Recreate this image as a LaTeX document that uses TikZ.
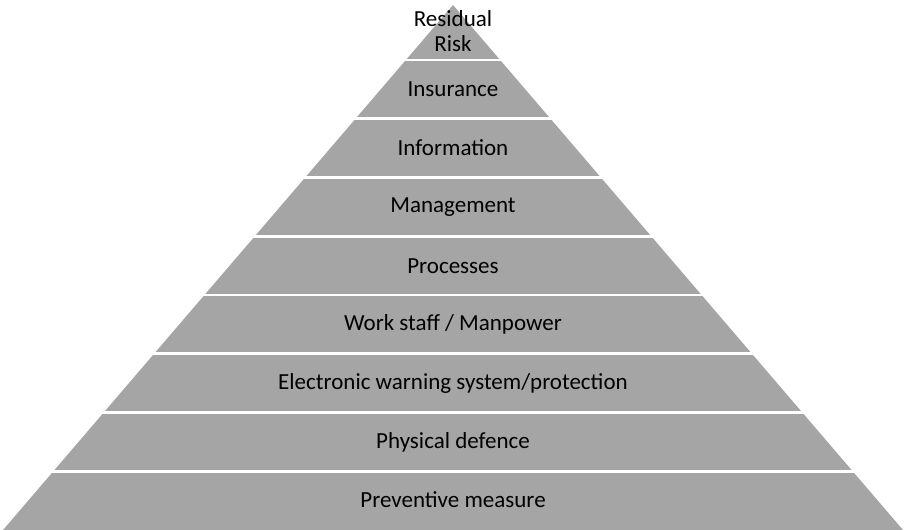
\documentclass[tikz,border=0pt]{standalone}
\usepackage{fontspec}
\setmainfont{Carlito}
\definecolor{gris}{HTML}{A5A5A5}
\begin{document}
\begin{tikzpicture}[x=0.02cm, y=-0.02cm,
    capa/.style={font=\fontsize{13.1}{14.4}\selectfont, align=center, inner sep=0pt}]
  \useasboundingbox (0,0) rectangle (907,530);
  % la piramide gris
  \fill[gris] (453,5) -- (903,530) -- (3,530) -- cycle;
  % las rayas blancas entre capas
  \foreach \i in {0,...,7} { \draw[white, line width=1.7pt] (0,{60+58.75*\i}) -- (907,{60+58.75*\i}); }
  % los textos de cada capa
  \node[capa] (residual) at (453,31) {Residual\\Risk};
  \node[capa] (insurance) at (453,89.5) {Insurance};
  \node[capa] (information) at (453,148) {Information};
  \node[capa] (management) at (453,207) {Management};
  \node[capa] (processes) at (453,266) {Processes};
  \node[capa] (workstaff) at (453,324) {Work staff / Manpower};
  \node[capa] (electronic) at (453,383) {Electronic warning system/protection};
  \node[capa] (physical) at (453,442) {Physical defence};
  \node[capa] (preventive) at (453,500) {Preventive measure};
\end{tikzpicture}
\end{document}
